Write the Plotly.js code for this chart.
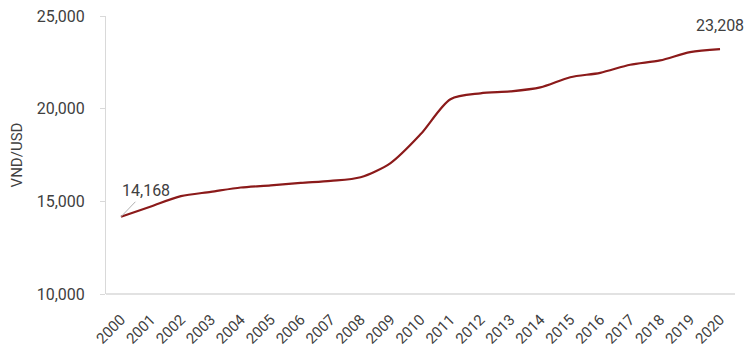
<!DOCTYPE html>
<html>
<head>
<meta charset="utf-8">
<script src="https://cdn.plot.ly/plotly-3.0.1.min.js"></script>
<style>html,body{margin:0;padding:0;background:#fff;}</style>
</head>
<body>
<div id="chart" style="width:750px;height:353px;"></div>
<script>
const years = ["2000","2001","2002","2003","2004","2005","2006","2007","2008","2009","2010","2011","2012","2013","2014","2015","2016","2017","2018","2019","2020"];
const rates = [14168,14725,15280,15510,15746,15859,15994,16105,16302,17065,18613,20510,20828,20933,21148,21698,21935,22370,22602,23050,23208];
const yTicks = [10000,15000,20000,25000];

const trace = {
  x: years, y: rates, type: 'scatter', mode: 'lines',
  line: {color: '#8B1A1A', width: 2.2, shape: 'spline', smoothing: 0.8},
  hoverinfo: 'skip'
};
const fmt = v => v.toLocaleString('en-US');
const last = years.length - 1;
const layout = {
  width: 750, height: 353,
  margin: {l: 106, r: 15, t: 16, b: 59},
  paper_bgcolor: '#fff', plot_bgcolor: '#fff',
  font: {family: 'Roboto, Arial, sans-serif', size: 15, color: '#404040'},
  showlegend: false,
  xaxis: {
    type: 'category', range: [-0.5, 20.5], automargin: false,
    tickangle: -45, showgrid: false, zeroline: false,
    showline: false, ticks: 'outside', ticklen: 10, tickcolor: 'rgba(0,0,0,0)',
    tickfont: {size: 15, color: '#404040'}
  },
  yaxis: {
    range: [10000, 25000], tickvals: yTicks, ticktext: yTicks.map(fmt), automargin: false,
    showgrid: false, zeroline: false, showline: true, linecolor: '#d9d9d9', linewidth: 1,
    ticks: 'outside', ticklen: 5, tickcolor: '#d9d9d9', ticklabelstandoff: 12,
    title: {text: 'VND/USD', font: {size: 15, color: '#404040'}, standoff: 10},
    tickfont: {size: 16, color: '#404040'}
  },
  shapes: [{
    type: 'line', xref: 'paper', yref: 'paper', x0: 0, x1: 1, y0: 0, y1: 0,
    line: {color: '#d9d9d9', width: 1.5}
  }],
  annotations: [
    {xref: 'x', yref: 'y', x: 0, y: rates[0], text: fmt(rates[0]), showarrow: true, arrowhead: 0,
     arrowcolor: '#b0b0b0', arrowwidth: 1, ax: 25, ay: -26,
     font: {size: 16, color: '#404040'}},
    {xref: 'x', yref: 'y', x: last, y: rates[last], text: fmt(rates[last]), showarrow: false,
     yshift: 12, yanchor: 'bottom', xanchor: 'center',
     font: {size: 16, color: '#404040'}}
  ]
};
Plotly.newPlot('chart', [trace], layout, {staticPlot: true, displayModeBar: false});
</script>
</body>
</html>
